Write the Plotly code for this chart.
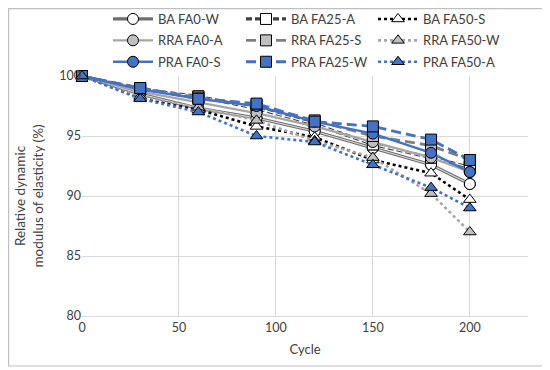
import plotly.graph_objects as go

cycles = [0, 30, 60, 90, 120, 150, 180, 200]

series_names = ["BA FA0-W", "RRA FA0-A", "PRA FA0-S",
                "BA FA25-A", "RRA FA25-S", "PRA FA25-W",
                "BA FA50-S", "RRA FA50-W", "PRA FA50-A"]

ba_fa0_w = [100, 98.5, 97.3, 96.5, 95.4, 94.0, 92.6, 91.0]
rra_fa0_a = [100, 98.7, 97.8, 96.9, 95.8, 94.5, 93.2, 92.0]
pra_fa0_s = [100, 98.9, 98.1, 97.5, 96.2, 95.2, 93.6, 92.0]
ba_fa25_a = [100, 98.9, 98.3, 97.3, 96.0, 94.3, 93.2, 92.4]
rra_fa25_s = [100, 99.0, 98.2, 97.6, 96.3, 95.0, 94.2, 93.0]
pra_fa25_w = [100, 99.0, 98.1, 97.7, 96.2, 95.8, 94.7, 93.0]
ba_fa50_s = [100, 98.2, 97.2, 95.8, 94.9, 93.0, 91.9, 89.7]
rra_fa50_w = [100, 98.3, 97.4, 96.3, 94.6, 93.2, 90.2, 87.0]
pra_fa50_a = [100, 98.1, 97.0, 95.0, 94.5, 92.6, 90.7, 89.0]

values = [ba_fa0_w, rra_fa0_a, pra_fa0_s,
          ba_fa25_a, rra_fa25_s, pra_fa25_w,
          ba_fa50_s, rra_fa50_w, pra_fa50_a]

BLUE = "#4472c4"
styles = [
    dict(color="#6e6e6e", dash="solid", width=3.2, sym="circle", fill="white",
         inner="#d9d9d9"),
    dict(color="#a6a6a6", dash="solid", width=2.4, sym="circle", fill="#bfbfbf"),
    dict(color=BLUE, dash="solid", width=2.4, sym="circle", fill=BLUE),
    dict(color="#404040", dash="6px,3px", width=3.2, sym="square", fill="white",
         inner="#ffffff"),
    dict(color="#808080", dash="10px,5px", width=2.8, sym="square", fill="#bfbfbf"),
    dict(color=BLUE, dash="10px,5px", width=2.8, sym="square", fill=BLUE),
    dict(color="#000000", dash="dot", width=2.6, sym="triangle-up", fill="white"),
    dict(color="#a6a6a6", dash="dot", width=2.6, sym="triangle-up", fill="#bfbfbf"),
    dict(color=BLUE, dash="dot", width=2.6, sym="triangle-up", fill=BLUE),
]
legend_ids = ["legend", "legend", "legend",
              "legend2", "legend2", "legend2",
              "legend3", "legend3", "legend3"]

# draw order: so that PRA (blue) markers end on top like the reference
draw_order = [0, 3, 6, 1, 4, 7, 2, 5, 8]

fig = go.Figure()
for i in draw_order:
    st = styles[i]
    marker = dict(symbol=st["sym"], size=11, color=st["fill"],
                  line=dict(color="#000000", width=1))
    fig.add_trace(go.Scatter(
        x=cycles, y=values[i], name=series_names[i], mode="lines+markers",
        line=dict(color=st["color"], dash=st["dash"], width=st["width"]),
        marker=marker, cliponaxis=False, legend=legend_ids[i], legendrank=i,
        legendgroup="g%d" % i,
    ))
    if "inner" in st:
        # compound (double) line: thin light core over the darker line
        fig.add_trace(go.Scatter(
            x=cycles, y=values[i], mode="lines", showlegend=False,
            line=dict(color=st["inner"], dash=st["dash"], width=1.1),
            hoverinfo="skip", legend=legend_ids[i], legendgroup="g%d" % i,
        ))
        fig.add_trace(go.Scatter(
            x=cycles, y=values[i], mode="markers", showlegend=False,
            marker=marker, cliponaxis=False, hoverinfo="skip",
            legend=legend_ids[i], legendgroup="g%d" % i,
        ))

FONT = "Lato"
# page body has an 8px margin; figure coordinates below are page - 8
W, H = 542, 362
L, R, T, B = 74, 22, 68, 54
pw, ph = W - L - R, H - T - B

def px_to_paper_x(px):
    return (px - L) / pw

def px_to_paper_y(py):
    return (H - B - py) / ph

fig.add_shape(type="rect", xref="paper", yref="paper",
              x0=px_to_paper_x(0.6), x1=px_to_paper_x(538),
              y0=px_to_paper_y(358), y1=px_to_paper_y(0.6),
              line=dict(color="#bfbfbf", width=1.2), layer="below")

def leg(xpx):
    return dict(orientation="v", x=px_to_paper_x(xpx), y=px_to_paper_y(-4),
                xanchor="left", yanchor="top", tracegroupgap=1.5,
                font=dict(family=FONT, size=13, color="#404040"),
                bgcolor="rgba(0,0,0,0)", itemwidth=40)

fig.update_layout(
    width=W, height=H,
    margin=dict(l=L, r=R, t=T, b=B, autoexpand=False),
    paper_bgcolor="white", plot_bgcolor="white",
    font=dict(family=FONT, size=12.5, color="#404040"),
    showlegend=True,
    legend=leg(100), legend2=leg(233), legend3=leg(365),
    xaxis=dict(range=[0, 230], tickvals=[0, 50, 100, 150, 200],
               showgrid=True, gridcolor="#d9d9d9", gridwidth=1,
               zeroline=False, showline=True, linecolor="#d9d9d9",
               ticks="", title=dict(text="Cycle", standoff=10,
                                    font=dict(family=FONT, size=13, color="#404040"))),
    yaxis=dict(range=[80, 100], tickvals=[80, 85, 90, 95, 100],
               showgrid=True, gridcolor="#d9d9d9", gridwidth=1,
               zeroline=False, showline=False, ticks="",
               title=dict(text="Relative dynamic<br>modulus of elasticity (%)", standoff=12,
                          font=dict(family=FONT, size=13.5, color="#404040"))),
)

fig.write_html("out.html")
